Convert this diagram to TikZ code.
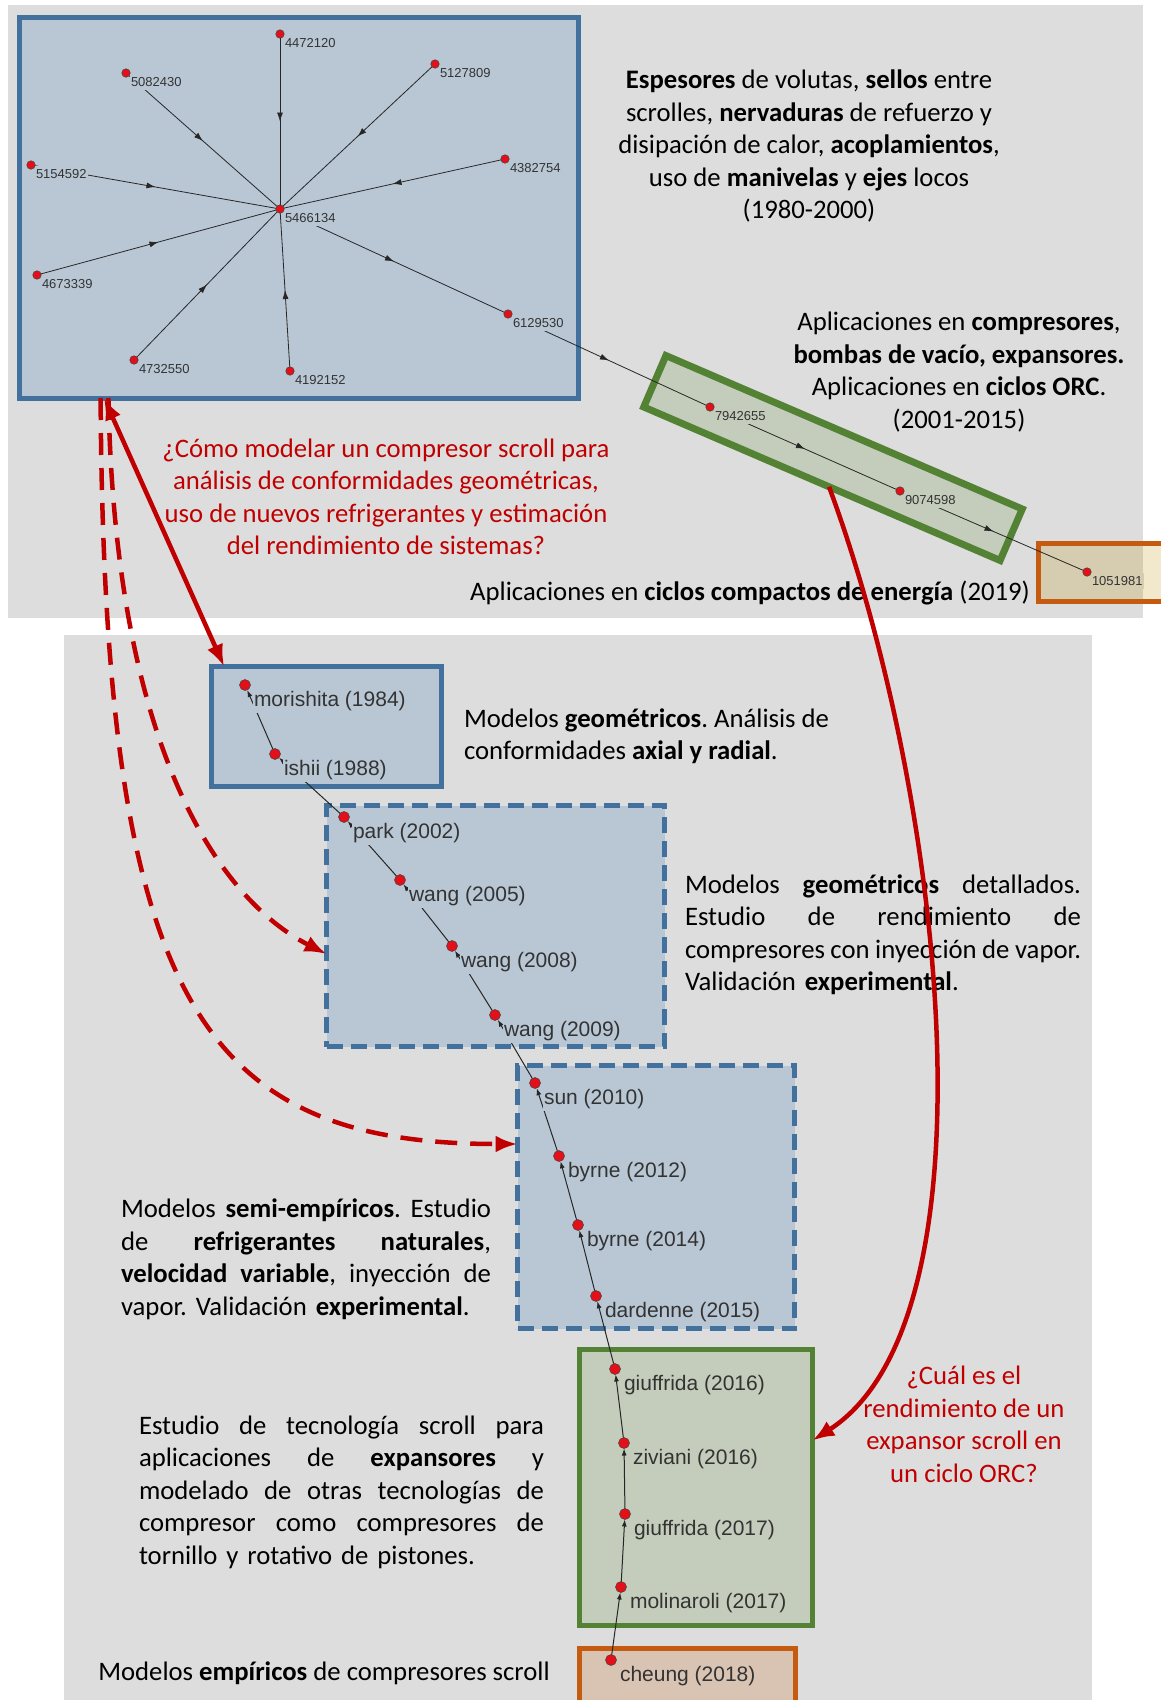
\documentclass[tikz,border=0pt]{standalone}
\usepackage{fontspec}
\setmainfont{Carlito}
\newfontfamily\netfont{Liberation Sans}
\usepackage{tikz}
\usetikzlibrary{arrows, arrows.meta, calc, decorations.markings}

\definecolor{panelgray}{HTML}{DDDDDD}
\definecolor{boxblue}{HTML}{41719C}
\definecolor{fillblue}{HTML}{B9C7D5}
\definecolor{boxgreen}{HTML}{548235}
\definecolor{fillgreen}{HTML}{C4CDBB}
\definecolor{boxorange}{HTML}{C55A11}
\definecolor{fillorange}{HTML}{D9C4B4}
\definecolor{fillamber}{HTML}{BE8C00}
\definecolor{tanfill}{HTML}{D6CCB0}
\definecolor{qred}{HTML}{C00000}
\definecolor{dotred}{HTML}{E3101A}
\definecolor{labelgray}{HTML}{333333}

\frenchspacing
% one justified line of a given width
\newcommand{\jline}[2]{\makebox[#1][s]{#2}}

\begin{document}
\begin{tikzpicture}[x=1pt, y=-1pt,
        >={Latex[length=22pt,width=17pt]},
        every node/.style={inner sep=0pt, outer sep=0pt},
        dot/.style={circle, draw=black!75, fill=dotred, line width=0.5pt, minimum size=8.5pt},
        bigdot/.style={dot, minimum size=11pt},
        num/.style={font=\netfont\fontsize{13}{13}\selectfont, text=labelgray,
            fill=fillblue, anchor=west, inner xsep=1pt, inner ysep=3pt},
        author/.style={font=\netfont\fontsize{21}{21}\selectfont, text=labelgray,
            fill=fillblue, anchor=west, inner xsep=1pt, inner ysep=2pt},
        midarrow/.style={draw=black!85, line width=0.8pt, postaction={decorate},
            decoration={markings, mark=at position 0.5 with {\arrow{Latex[length=9pt,width=6pt]}}}},
        citeedge/.style={draw=black!85, line width=1pt, -{Latex[length=7pt,width=5pt]}},
        blueframe/.style={draw=boxblue, fill=fillblue, line width=5pt},
        dashframe/.style={blueframe, dash pattern=on 16pt off 8pt},
        greenframe/.style={draw=boxgreen, fill=fillgreen, line width=5pt},
        orangeframe/.style={draw=boxorange, line width=5pt},
        body/.style={font=\fontsize{26.7}{32.5}\selectfont, text=black},
        question/.style={body, text=qred, align=center},
        redarrow/.style={draw=qred, line width=4.5pt},
        reddash/.style={redarrow, dash pattern=on 22pt off 13pt},
    ]

    \clip (0,0) rectangle (1161,1700);

    % panels
    \fill[panelgray] (8,5) rectangle (1143,618);
    \fill[panelgray] (64,635) rectangle (1092,1700);

    % frames
    \node[blueframe, minimum width=559pt, minimum height=381pt] (netbox) at (298.5,207.5) {};
    \node[greenframe, line width=7pt, rotate=-23.3, minimum width=388pt, minimum height=56pt] (orcbox) at (833,458) {};
    \node[orangeframe, fill=fillamber, fill opacity=0.2, minimum width=162pt, minimum height=58pt] (ccebox) at (1119,572.5) {};

    \node[blueframe, minimum width=230pt, minimum height=120pt] (geobox) at (326.5,726.5) {};
    \node[dashframe, minimum width=338pt, minimum height=241pt] (detbox) at (495.5,926) {};
    \node[dashframe, minimum width=277pt, minimum height=263pt] (semibox) at (656,1197) {};
    \node[greenframe, minimum width=233pt, minimum height=276pt] (expbox) at (696,1487.5) {};
    \node[orangeframe, fill=fillorange, minimum width=216pt, minimum height=143pt] (empbox) at (687.5,1720) {};

    % patent network
    \node[dot] (n5466134) at (280,209) {};
    \node[dot] (n4472120) at (280,34) {};
    \node[dot] (n5082430) at (126,73) {};
    \node[dot] (n5127809) at (435,64) {};
    \node[dot] (n5154592) at (31,165) {};
    \node[dot] (n4382754) at (505,159) {};
    \node[dot] (n4673339) at (37,275) {};
    \node[dot] (n6129530) at (508,314) {};
    \node[dot] (n4732550) at (134,360) {};
    \node[dot] (n4192152) at (290,371) {};
    \node[dot] (n7942655) at (710,407) {};
    \node[dot] (n9074598) at (900,491) {};
    \node[dot] (n1051981) at (1087,572) {};

    \draw[midarrow] (n4472120) -- (n5466134);
    \draw[midarrow] (n5082430) -- (n5466134);
    \draw[midarrow] (n5127809) -- (n5466134);
    \draw[midarrow] (n5154592) -- (n5466134);
    \draw[midarrow] (n4382754) -- (n5466134);
    \draw[midarrow] (n4673339) -- (n5466134);
    \draw[midarrow] (n4732550) -- (n5466134);
    \draw[midarrow] (n4192152) -- (n5466134);
    \draw[midarrow] (n5466134) -- (n6129530);
    \draw[midarrow] (n6129530) -- (n7942655);
    \draw[midarrow] (n7942655) -- (n9074598);
    \draw[midarrow] (n9074598) -- (n1051981);

    \node[num] (t5466134) at ([shift={(4,9)}]n5466134.center) {5466134};
    \node[num] (t4472120) at ([shift={(4,9)}]n4472120.center) {4472120};
    \node[num] (t5082430) at ([shift={(4,9)}]n5082430.center) {5082430};
    \node[num] (t5127809) at ([shift={(4,9)}]n5127809.center) {5127809};
    \node[num] (t5154592) at ([shift={(4,9)}]n5154592.center) {5154592};
    \node[num] (t4382754) at ([shift={(4,9)}]n4382754.center) {4382754};
    \node[num] (t4673339) at ([shift={(4,9)}]n4673339.center) {4673339};
    \node[num] (t6129530) at ([shift={(4,9)}]n6129530.center) {6129530};
    \node[num] (t4732550) at ([shift={(4,9)}]n4732550.center) {4732550};
    \node[num] (t4192152) at ([shift={(4,9)}]n4192152.center) {4192152};
    \node[num, fill=fillgreen] (t7942655) at ([shift={(4,9)}]n7942655.center) {7942655};
    \node[num, fill=fillgreen] (t9074598) at ([shift={(4,9)}]n9074598.center) {9074598};
    \node[num, fill=tanfill] (t1051981) at ([shift={(4,9)}]n1051981.center) {1051981};

    % citation chain
    \node[bigdot] (mor84) at (245,685) {};
    \node[bigdot] (ish88) at (275,754) {};
    \node[bigdot] (par02) at (344,817) {};
    \node[bigdot] (wan05) at (400,880) {};
    \node[bigdot] (wan08) at (452,946) {};
    \node[bigdot] (wan09) at (495,1015) {};
    \node[bigdot] (sun10) at (535,1083) {};
    \node[bigdot] (byr12) at (559,1156) {};
    \node[bigdot] (byr14) at (578,1225) {};
    \node[bigdot] (dar15) at (596,1296) {};
    \node[bigdot] (giu16) at (615,1369) {};
    \node[bigdot] (ziv16) at (624,1443) {};
    \node[bigdot] (giu17) at (625,1514) {};
    \node[bigdot] (mol17) at (621,1587) {};
    \node[bigdot] (che18) at (611,1660) {};

    \draw[citeedge] (ish88) -- (mor84);
    \draw[citeedge] (par02) -- (ish88);
    \draw[citeedge] (wan05) -- (par02);
    \draw[citeedge] (wan08) -- (wan05);
    \draw[citeedge] (wan09) -- (wan08);
    \draw[citeedge] (sun10) -- (wan09);
    \draw[citeedge] (byr12) -- (sun10);
    \draw[citeedge] (byr14) -- (byr12);
    \draw[citeedge] (dar15) -- (byr14);
    \draw[citeedge] (giu16) -- (dar15);
    \draw[citeedge] (ziv16) -- (giu16);
    \draw[citeedge] (giu17) -- (ziv16);
    \draw[citeedge] (mol17) -- (giu17);
    \draw[citeedge] (che18) -- (mol17);

    \node[author] (mor84l) at ([shift={(8,16)}]mor84.center) {morishita (1984)};
    \node[author] (ish88l) at ([shift={(8,16)}]ish88.center) {ishii (1988)};
    \node[author] (par02l) at ([shift={(8,16)}]par02.center) {park (2002)};
    \node[author] (wan05l) at ([shift={(8,16)}]wan05.center) {wang (2005)};
    \node[author] (wan08l) at ([shift={(8,16)}]wan08.center) {wang (2008)};
    \node[author] (wan09l) at ([shift={(8,16)}]wan09.center) {wang (2009)};
    \node[author] (sun10l) at ([shift={(8,16)}]sun10.center) {sun (2010)};
    \node[author] (byr12l) at ([shift={(8,16)}]byr12.center) {byrne (2012)};
    \node[author] (byr14l) at ([shift={(8,16)}]byr14.center) {byrne (2014)};
    \node[author] (dar15l) at ([shift={(8,16)}]dar15.center) {dardenne (2015)};
    \node[author, fill=fillgreen] (giu16l) at ([shift={(8,16)}]giu16.center) {giuffrida (2016)};
    \node[author, fill=fillgreen] (ziv16l) at ([shift={(8,16)}]ziv16.center) {ziviani (2016)};
    \node[author, fill=fillgreen] (giu17l) at ([shift={(8,16)}]giu17.center) {giuffrida (2017)};
    \node[author, fill=fillgreen] (mol17l) at ([shift={(8,16)}]mol17.center) {molinaroli (2017)};
    \node[author, fill=fillorange] (che18l) at ([shift={(8,16)}]che18.center) {cheung (2018)};

    % texts
    \node[body, align=center] (t-early) at (809,146) {\textbf{Espesores} de volutas, \textbf{sellos} entre\\
        scrolles, \textbf{nervaduras} de refuerzo y\\
        disipación de calor, \textbf{acoplamientos},\\
        uso de \textbf{manivelas} y \textbf{ejes} locos\\
        (1980-2000)};
    \node[body, align=center] (t-apps) at (959,372) {Aplicaciones en \textbf{compresores},\\
        \textbf{bombas de vacío, expansores.}\\
        Aplicaciones en \textbf{ciclos ORC}.\\
        (2001-2015)};
    \node[question] (q-model) at (386,497) {¿Cómo modelar un compresor scroll para\\
        análisis de conformidades geométricas,\\
        uso de nuevos refrigerantes y estimación\\
        del rendimiento de sistemas?};
    \node[body] (t-compact) at (750,593) {Aplicaciones en \textbf{ciclos compactos de energía} (2019)};

    \node[body, align=left, anchor=west] (t-geo) at (464,736) {Modelos \textbf{geométricos}. Análisis de\\
        conformidades \textbf{axial y radial}.};
    \node[body, align=left, text width=396pt] (t-detail) at (883,934.5) {\jline{396pt}{Modelos \hfill \textbf{geométricos} \hfill detallados.}\\
        \jline{396pt}{Estudio \hfill de \hfill rendimiento \hfill de}\\
        \jline{396pt}{\spaceskip=3pt plus 1fil\relax compresores con inyección de vapor.}\\
        Validación \textbf{experimental}.};
    \node[body, align=left, text width=370pt] (t-semi) at (306,1259.5) {\jline{370pt}{Modelos \hfill \textbf{semi-empíricos}. \hfill Estudio}\\
        \jline{370pt}{de \hfill \textbf{refrigerantes} \hfill \textbf{naturales},}\\
        \jline{370pt}{\textbf{velocidad} \hfill \textbf{variable}, \hfill inyección \hfill de}\\
        vapor. Validación \textbf{experimental}.};
    \node[body, align=left, text width=405pt] (t-exp) at (341.5,1492) {\jline{405pt}{Estudio \hfill de \hfill tecnología \hfill scroll \hfill para}\\
        \jline{405pt}{aplicaciones \hfill de \hfill \textbf{expansores} \hfill y}\\
        \jline{405pt}{modelado \hfill de \hfill otras \hfill tecnologías \hfill de}\\
        \jline{405pt}{compresor \hfill como \hfill compresores \hfill de}\\
        tornillo y rotativo de pistones.};
    \node[body] (t-emp) at (324,1673) {Modelos \textbf{empíricos} de compresores scroll};
    \node[question] (q-orc) at (964,1424.5) {¿Cuál es el\\
        rendimiento de un\\
        expansor scroll en\\
        un ciclo ORC?};

    % red arrows
    \draw[redarrow, <->] ($(netbox.south west)!0.152!(netbox.south east)$) -- ($(geobox.north west)!0.055!(geobox.north east)$);
    \draw[reddash, ->] ($(netbox.south west)!0.146!(netbox.south east)$) .. controls (104,1000) and (200,1144) .. ([yshift=53pt]semibox.west);
    \draw[reddash, ->] ($(netbox.south west)!0.160!(netbox.south east)$) .. controls (115,750) and (220,900) .. ([yshift=-28pt]detbox.west);
    \draw[redarrow, ->] ($(orcbox.south west)!0.52!(orcbox.south east)$) .. controls (945,800) and (1000,1320) .. ([yshift=47pt]expbox.east);

\end{tikzpicture}
\end{document}
